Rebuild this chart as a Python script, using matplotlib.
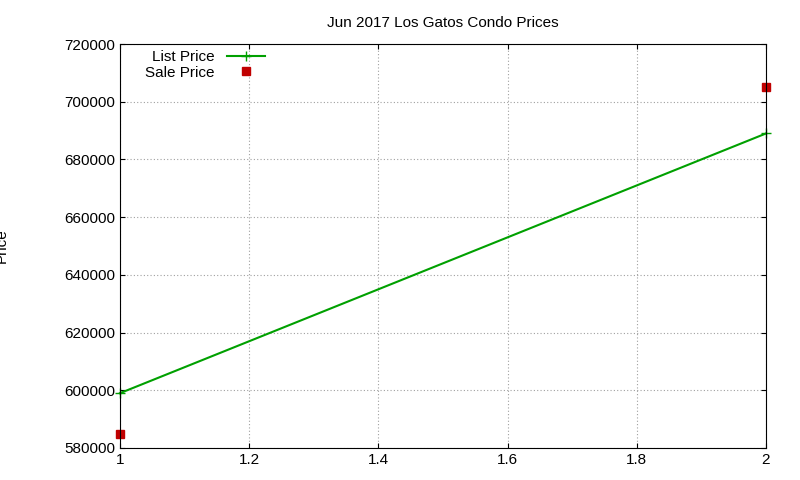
import matplotlib
matplotlib.use("Agg")
import matplotlib.pyplot as plt
plt.rcParams['font.family'] = ['Liberation Sans', 'DejaVu Sans']

x = [1, 2]
list_price = [599000, 689000]
sale_price = [585000, 705000]
yticks = [580000, 600000, 620000, 640000, 660000, 680000, 700000, 720000]
xticks = [1, 1.2, 1.4, 1.6, 1.8, 2]
xticklabels = ["1", "1.2", "1.4", "1.6", "1.8", "2"]

fig = plt.figure(figsize=(8, 4.8), dpi=100)
ax = fig.add_axes([0.15, 0.0667, 0.8075, 0.8416])
ax.plot(x, list_price, color="#00a000", marker="+", markersize=7, linewidth=1.5,
        label="List Price", clip_on=False)
ax.plot(x, sale_price, linestyle="none", color="#c00000", marker="s", markersize=6,
        label="Sale Price", clip_on=False)
ax.set_xlim(1, 2)
ax.set_ylim(580000, 720000)
ax.set_xticks(xticks)
ax.set_xticklabels(xticklabels)
ax.set_yticks(yticks)
ax.grid(True, color="#a0a0a0", linestyle=(0, (1, 2)), linewidth=0.8)
ax.tick_params(direction="in", top=True, right=True, labelsize=11)
for s in ax.spines.values():
    s.set_linewidth(0.8)
ax.set_ylabel("Price", fontsize=11, labelpad=40)
ax.set_title("Jun 2017 Los Gatos Condo Prices", fontsize=11, pad=12)
ax.legend(loc="upper left", bbox_to_anchor=(0.02, 1.015), frameon=False, markerfirst=False,
          fontsize=11, handlelength=2.5, labelspacing=0.1, borderpad=0.3)
fig.savefig("out.png", dpi=100)
